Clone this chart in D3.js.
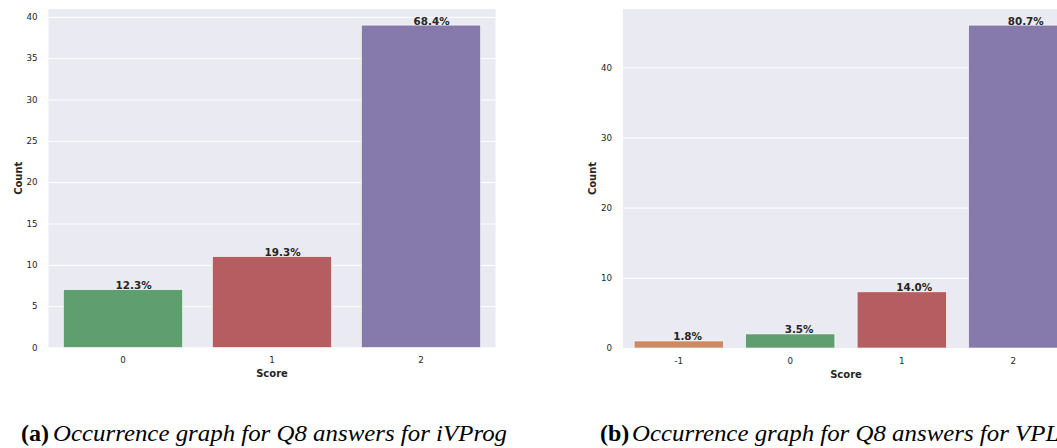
<!DOCTYPE html>
<html>
<head>
<meta charset="utf-8">
<script src="https://cdn.jsdelivr.net/npm/d3@7"></script>
<style>
  body { margin: 0; background: #fff; }
  svg { display: block; }
  .tick text { font-family: "DejaVu Sans", sans-serif; font-size: 8.7px; fill: #262626; }
</style>
</head>
<body>
<svg id="main-svg" width="1057" height="448"></svg>
<script>
// data
var leftScores = ["0", "1", "2"];
var leftCounts = [7, 11, 39];
var leftTicks = [0, 5, 10, 15, 20, 25, 30, 35, 40];

var rightScores = ["-1", "0", "1", "2"];
var rightCounts = [1, 2, 8, 46];
var rightTicks = [0, 10, 20, 30, 40];

// seaborn "deep" colours (desaturated) keyed by score
var scoreColors = { "-1": "#CC8963", "0": "#5F9E6E", "1": "#B55D60", "2": "#857AAB" };

var captionA = ["(a)", "Occurrence graph for Q8 answers for iVProg"];
var captionB = ["(b)", "Occurrence graph for Q8 answers for VPL"];

var svg = d3.select("#main-svg");

function drawPanel(opts) {
  var scores = opts.scores, counts = opts.counts;
  var total = d3.sum(counts);
  var g = svg.append("g");

  var x = d3.scaleBand()
    .domain(scores)
    .range([opts.left, opts.right])
    .paddingInner(0.2)
    .paddingOuter(0.1);

  var y = d3.scaleLinear()
    .domain([0, d3.max(counts) * 1.05])
    .range([opts.bottom, opts.top]);

  // background
  g.append("rect")
    .attr("x", opts.left)
    .attr("y", opts.top)
    .attr("width", opts.right - opts.left)
    .attr("height", opts.bottom - opts.top)
    .attr("fill", "#EAEAF2");

  // grid
  var grid = g.append("g")
    .attr("transform", "translate(" + opts.left + ",0)")
    .call(d3.axisLeft(y).tickValues(opts.ticks).tickSize(-(opts.right - opts.left)).tickFormat(""));
  grid.select(".domain").remove();
  grid.selectAll("line").attr("stroke", "#fff").attr("stroke-width", 1);

  // y axis labels
  var ya = g.append("g")
    .attr("transform", "translate(" + opts.left + ",0)")
    .call(d3.axisLeft(y).tickValues(opts.ticks).tickSize(0).tickPadding(11));
  ya.select(".domain").remove();

  // x axis labels
  var xa = g.append("g")
    .attr("transform", "translate(0," + opts.bottom + ")")
    .call(d3.axisBottom(x).tickSize(0).tickPadding(9.5));
  xa.select(".domain").remove();

  // bars
  g.selectAll(".bar")
    .data(scores)
    .enter()
    .append("rect")
    .attr("x", function (d) { return x(d); })
    .attr("y", function (d, i) { return y(counts[i]); })
    .attr("width", x.bandwidth())
    .attr("height", function (d, i) { return y(0) - y(counts[i]); })
    .attr("fill", function (d) { return scoreColors[d]; })
    .attr("stroke", "#fff")
    .attr("stroke-width", 0.6);

  // percentage labels
  g.selectAll(".pct")
    .data(scores)
    .enter()
    .append("text")
    .attr("x", function (d) { return x(d) + x.bandwidth() / 2 - 0.05 * x.step(); })
    .attr("y", function (d, i) { return y(counts[i]) - 0.5; })
    .attr("font-family", "DejaVu Sans, sans-serif")
    .attr("font-weight", "bold")
    .attr("font-size", "10.4px")
    .attr("fill", "#262626")
    .text(function (d, i) { return (counts[i] / total * 100).toFixed(1) + "%"; });

  // axis titles
  g.append("text")
    .attr("x", (opts.left + opts.right) / 2)
    .attr("y", opts.bottom + 29.5)
    .attr("text-anchor", "middle")
    .attr("font-family", "DejaVu Sans, sans-serif")
    .attr("font-weight", "bold")
    .attr("font-size", "10px")
    .attr("fill", "#262626")
    .text("Score");

  g.append("text")
    .attr("transform", "translate(" + opts.countX + "," + ((opts.top + opts.bottom) / 2) + ") rotate(-90)")
    .attr("text-anchor", "middle")
    .attr("font-family", "DejaVu Sans, sans-serif")
    .attr("font-weight", "bold")
    .attr("font-size", "10px")
    .attr("fill", "#262626")
    .text("Count");
}

drawPanel({ scores: leftScores, counts: leftCounts, ticks: leftTicks,
  left: 48.5, right: 495.5, top: 9, bottom: 347.5, countX: 21.5 });
drawPanel({ scores: rightScores, counts: rightCounts, ticks: rightTicks,
  left: 623, right: 1069, top: 9, bottom: 348, countX: 596 });

// captions (the reference uses a narrow serif, so the italic part is squeezed a little)
function caption(parts, xPos) {
  var t = svg.append("text")
    .attr("y", 441)
    .attr("font-family", "Liberation Serif, serif")
    .attr("font-size", "24px")
    .attr("fill", "#000");
  t.append("tspan").attr("x", xPos).attr("font-weight", "bold").text(parts[0]);
  var it = t.append("tspan").attr("x", xPos + 32).attr("font-style", "italic").text(parts[1]);
  return it;
}

var itA = caption(captionA, 21);
var itB = caption(captionB, 600);
var squeeze = 454 / itA.node().getComputedTextLength();
var wB = itB.node().getComputedTextLength();
itA.attr("textLength", 454).attr("lengthAdjust", "spacingAndGlyphs");
itB.attr("textLength", wB * squeeze).attr("lengthAdjust", "spacingAndGlyphs");
</script>
</body>
</html>
